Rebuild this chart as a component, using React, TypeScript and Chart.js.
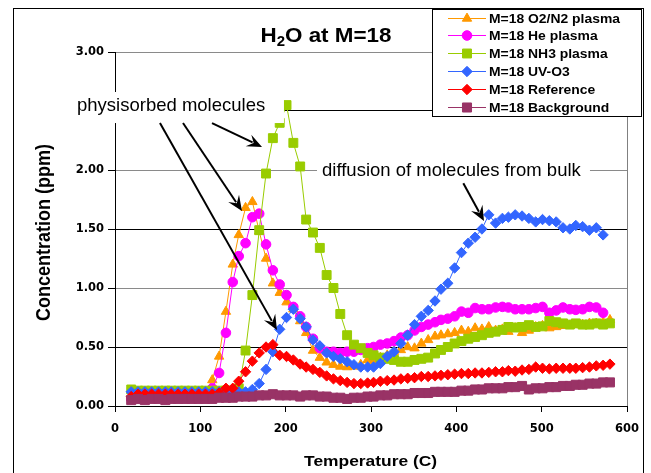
import React, { useEffect, useRef } from 'react';
import { Chart, registerables } from 'chart.js';
import { drawPoint } from 'chart.js/helpers';

Chart.register(...registerables);

// Temperature (C) of each sample
const temperatures = [
  19, 27, 35, 43, 51, 59, 66, 74, 82, 90,
  98, 106, 114, 122, 130, 138, 145, 153, 161, 169,
  177, 185, 193, 201, 209, 217, 224, 232, 240, 248,
  256, 264, 272, 280, 288, 296, 303, 311, 319, 327,
  335, 343, 351, 359, 367, 375, 382, 390, 398, 406,
  414, 422, 430, 438, 446, 454, 461, 469, 477, 485,
  493, 501, 509, 517, 525, 533, 540, 548, 556, 564,
  572, 580,
];

const o2n2Plasma = [
  0.07, 0.11, 0.11, 0.11, 0.11, 0.11, 0.11, 0.11, 0.11, 0.11,
  0.11, 0.12, 0.22, 0.42, 0.80, 1.20, 1.45, 1.68, 1.73, 1.48,
  1.25, 1.04, 0.96, 0.88, 0.82, 0.72, 0.62, 0.47, 0.41, 0.37,
  0.35, 0.335, 0.33, 0.335, 0.35, 0.39, 0.38, 0.41, 0.43, 0.46,
  0.475, 0.50, 0.49, 0.53, 0.56, 0.59, 0.60, 0.61, 0.62, 0.64,
  0.63, 0.66, 0.65, 0.67, 0.64, 0.65, 0.63, 0.66, 0.62, 0.64,
  0.67, 0.68, 0.66, 0.67, 0.68, 0.68, 0.69, 0.69, 0.70, 0.70,
  0.71, 0.73,
];

const hePlasma = [
  0.06, 0.09, 0.09, 0.09, 0.09, 0.09, 0.09, 0.09, 0.09, 0.09,
  0.09, 0.10, 0.15, 0.28, 0.62, 1.05, 1.27, 1.38, 1.60, 1.63,
  1.37, 1.15, 1.03, 0.94, 0.84, 0.76, 0.67, 0.57, 0.49, 0.46,
  0.46, 0.45, 0.46, 0.46, 0.475, 0.49, 0.50, 0.52, 0.53, 0.55,
  0.58, 0.60, 0.64, 0.67, 0.69, 0.71, 0.73, 0.74, 0.76, 0.80,
  0.79, 0.83, 0.82, 0.82, 0.835, 0.84, 0.835, 0.82, 0.82, 0.82,
  0.83, 0.84, 0.79, 0.81, 0.835, 0.82, 0.815, 0.82, 0.84, 0.835,
  0.79, null,
];

const nh3Plasma = [
  0.14, 0.13, 0.13, 0.13, 0.13, 0.13, 0.13, 0.13, 0.13, 0.13,
  0.13, 0.13, 0.13, 0.13, 0.13, 0.13, 0.15, 0.47, 0.94, 1.49,
  1.97, 2.27, 2.40, 2.55, 2.23, 2.03, 1.58, 1.47, 1.34, 1.11,
  1.00, 0.78, 0.60, 0.52, 0.49, 0.45, 0.43, 0.41, 0.40, 0.39,
  0.375, 0.375, 0.39, 0.40, 0.41, 0.445, 0.475, 0.50, 0.53, 0.55,
  0.57, 0.585, 0.60, 0.62, 0.63, 0.645, 0.67, 0.665, 0.67, 0.685,
  0.67, 0.675, 0.72, 0.71, 0.70, 0.69, 0.70, 0.69, 0.69, 0.70,
  0.69, 0.70,
];

const uvO3 = [
  0.12, 0.12, 0.12, 0.12, 0.12, 0.12, 0.12, 0.12, 0.12, 0.12,
  0.12, 0.12, 0.12, 0.12, 0.12, 0.12, 0.12, 0.12, 0.14, 0.19,
  0.31, 0.46, 0.65, 0.75, 0.82, 0.74, 0.67, 0.56, 0.51, 0.45,
  0.42, 0.40, 0.375, 0.35, 0.33, 0.33, 0.33, 0.36, 0.42, 0.46,
  0.53, 0.60, 0.69, 0.76, 0.81, 0.89, 0.99, 1.04, 1.17, 1.30,
  1.38, 1.43, 1.50, 1.62, 1.55, 1.59, 1.60, 1.62, 1.61, 1.59,
  1.56, 1.58, 1.57, 1.56, 1.51, 1.50, 1.53, 1.52, 1.49, 1.51,
  1.45, null,
];

const reference = [
  0.08, 0.10, 0.10, 0.10, 0.10, 0.10, 0.10, 0.10, 0.10, 0.10,
  0.10, 0.10, 0.10, 0.11, 0.15, 0.15, 0.21, 0.29, 0.38, 0.45,
  0.50, 0.52, 0.43, 0.42, 0.39, 0.355, 0.33, 0.31, 0.285, 0.255,
  0.23, 0.215, 0.20, 0.19, 0.19, 0.195, 0.20, 0.21, 0.215, 0.22,
  0.23, 0.235, 0.24, 0.25, 0.25, 0.255, 0.26, 0.265, 0.27, 0.275,
  0.275, 0.28, 0.28, 0.285, 0.29, 0.29, 0.30, 0.295, 0.305, 0.31,
  0.33, 0.32, 0.315, 0.32, 0.32, 0.32, 0.32, 0.325, 0.33, 0.34,
  0.345, 0.355,
];

const background = [
  0.05, 0.06, 0.05, 0.06, 0.06, 0.05, 0.06, 0.06, 0.06, 0.06,
  0.06, 0.06, 0.06, 0.07, 0.07, 0.07, 0.08, 0.08, 0.08, 0.09,
  0.09, 0.10, 0.09, 0.09, 0.09, 0.08, 0.09, 0.09, 0.08, 0.08,
  0.07, 0.07, 0.06, 0.07, 0.07, 0.08, 0.08, 0.09, 0.09, 0.10,
  0.10, 0.10, 0.11, 0.11, 0.11, 0.12, 0.12, 0.12, 0.12, 0.13,
  0.13, 0.14, 0.14, 0.15, 0.15, 0.15, 0.16, 0.16, 0.17, 0.14,
  0.15, 0.15, 0.16, 0.16, 0.17, 0.17, 0.18, 0.18, 0.19, 0.19,
  0.20, 0.20,
];

const seriesValues = [o2n2Plasma, hePlasma, nh3Plasma, uvO3, reference, background];
const seriesLabels = [
  'M=18 O2/N2 plasma',
  'M=18 He plasma',
  'M=18 NH3 plasma',
  'M=18 UV-O3',
  'M=18 Reference',
  'M=18 Background',
];
const seriesColors = ['#FF9900', '#FF00FF', '#99CC00', '#3366FF', '#FF0000', '#993366'];
const seriesMarkers = ['triangle', 'circle', 'rect', 'rectRot', 'rectRot', 'rect'];
const seriesRadius = [5.4, 4.8, 6.3, 5.2, 5.2, 6.4];

const titleMain = 'H';
const titleSub = '2';
const titleRest = 'O at M=18';
const xAxisTitle = 'Temperature (C)';
const yAxisTitle = 'Concentration (ppm)';

// annotations (data units: x = temperature, y = concentration)
const physLabel = { text: 'physisorbed molecules', x: -44.5, y: 2.5 };
const physBox = { x0: -52.7, x1: 198, y0: 2.398, y1: 2.661 };
const diffLabel = { text: 'diffusion of molecules from bulk', x: 242.6, y: 1.953 };
const diffBox = { x0: 236.7, x1: 556.6, y0: 1.898, y1: 2.11 };
const arrows = [
  { from: [113.7, 2.398], to: [172.3, 2.195] },
  { from: [79.7, 2.398], to: [148.8, 1.653] },
  { from: [52.7, 2.398], to: [189.8, 0.644] },
  { from: [408.2, 1.887], to: [432.4, 1.568] },
];

const SANS = '"Liberation Sans", Arial, sans-serif';

function stretchedText(ctx, text, x, y, font, sx, align) {
  ctx.save();
  ctx.font = font;
  ctx.textAlign = align;
  ctx.textBaseline = 'alphabetic';
  ctx.translate(x, y);
  ctx.scale(sx, 1);
  ctx.fillText(text, 0, 0);
  ctx.restore();
}

function drawArrow(ctx, x0, y0, x1, y1) {
  const dx = x1 - x0;
  const dy = y1 - y0;
  const len = Math.hypot(dx, dy);
  const ux = dx / len;
  const uy = dy / len;
  const nx = -uy;
  const ny = ux;
  const L = 15;
  const W = 6.5;
  ctx.beginPath();
  ctx.moveTo(x0, y0);
  ctx.lineTo(x1 - ux * L * 0.7, y1 - uy * L * 0.7);
  ctx.stroke();
  ctx.beginPath();
  ctx.moveTo(x1, y1);
  ctx.lineTo(x1 - ux * L + nx * W, y1 - uy * L + ny * W);
  ctx.lineTo(x1 - ux * L * 0.62, y1 - uy * L * 0.62);
  ctx.lineTo(x1 - ux * L - nx * W, y1 - uy * L - ny * W);
  ctx.closePath();
  ctx.fill();
}

const overlayPlugin = {
  id: 'overlay',
  afterDraw(chart) {
    const ctx = chart.ctx;
    const xs = chart.scales.x;
    const ys = chart.scales.y;
    const px = (v) => xs.getPixelForValue(v);
    const py = (v) => ys.getPixelForValue(v);
    ctx.save();

    // annotation boxes
    ctx.fillStyle = '#ffffff';
    for (const b of [physBox, diffBox]) {
      ctx.fillRect(px(b.x0), py(b.y1), px(b.x1) - px(b.x0), py(b.y0) - py(b.y1));
    }
    ctx.fillStyle = '#000';
    for (const l of [physLabel, diffLabel]) {
      stretchedText(ctx, l.text, px(l.x), py(l.y), `18.5px ${SANS}`, 1, 'left');
    }

    // arrows
    ctx.strokeStyle = '#000';
    ctx.fillStyle = '#000';
    ctx.lineWidth = 2;
    for (const a of arrows) {
      drawArrow(ctx, px(a.from[0]), py(a.from[1]), px(a.to[0]), py(a.to[1]));
    }

    // title with subscript
    const fBig = `bold 21px ${SANS}`;
    const fSub = `bold 14px ${SANS}`;
    ctx.font = fBig;
    const wH = ctx.measureText(titleMain).width;
    const wRest = ctx.measureText(titleRest).width;
    ctx.font = fSub;
    const w2 = ctx.measureText(titleSub).width;
    const tsx = 1.067;
    const total = (wH + w2 + wRest) * tsx;
    ctx.save();
    ctx.translate(326 - total / 2, 41.5);
    ctx.scale(tsx, 1);
    ctx.textAlign = 'left';
    ctx.textBaseline = 'alphabetic';
    ctx.fillStyle = '#000';
    ctx.font = fBig;
    ctx.fillText(titleMain, 0, 0);
    ctx.font = fSub;
    ctx.fillText(titleSub, wH, 4);
    ctx.font = fBig;
    ctx.fillText(titleRest, wH + w2, 0);
    ctx.restore();

    // axis titles
    ctx.fillStyle = '#000';
    stretchedText(ctx, xAxisTitle, 370.6, 466, `bold 15.4px ${SANS}`, 1.13, 'center');
    ctx.save();
    ctx.translate(49.5, 232.5);
    ctx.scale(1.1, 1);
    ctx.rotate(-Math.PI / 2);
    ctx.font = `bold 18px ${SANS}`;
    ctx.textAlign = 'center';
    ctx.textBaseline = 'alphabetic';
    ctx.fillText(yAxisTitle, 0, 0);
    ctx.restore();

    // legend
    ctx.fillStyle = '#ffffff';
    ctx.fillRect(432.5, 9.5, 209, 107);
    ctx.strokeStyle = '#000';
    ctx.lineWidth = 1;
    ctx.strokeRect(432.5, 9.5, 209, 107);
    for (let i = 0; i < seriesLabels.length; i++) {
      const cy = Math.round(17.5 + i * 17.85) + 0.5;
      ctx.strokeStyle = seriesColors[i];
      ctx.fillStyle = seriesColors[i];
      ctx.lineWidth = 1;
      ctx.beginPath();
      ctx.moveTo(448, cy);
      ctx.lineTo(486, cy);
      ctx.stroke();
      drawPoint(ctx, { pointStyle: seriesMarkers[i], radius: seriesRadius[i], rotation: 0, borderWidth: 1 }, 467, cy);
      ctx.fillStyle = '#000';
      stretchedText(ctx, seriesLabels[i], 489, cy + 4.7, `bold 13px ${SANS}`, 1.07, 'left');
    }

    // outer chart border
    ctx.strokeStyle = '#000';
    ctx.lineWidth = 1;
    ctx.strokeRect(13.5, 8.5, 630, 470);
    ctx.restore();
  },
};

export default function App() {
  const canvasRef = useRef(null);

  useEffect(() => {
    const canvas = canvasRef.current;
    if (!canvas) return;
    const tickFont = { family: 'DejaVu Sans', size: 11.5, weight: 'bold' };
    const chart = new Chart(canvas, {
      type: 'line',
      data: {
        datasets: seriesValues.map((vals, k) => ({
          label: seriesLabels[k],
          data: temperatures.map((t, i) => ({ x: t, y: vals[i] })),
          borderColor: seriesColors[k],
          backgroundColor: seriesColors[k],
          borderWidth: 1,
          pointStyle: seriesMarkers[k],
          pointRadius: seriesRadius[k],
          pointBorderWidth: 1,
          pointBorderColor: seriesColors[k],
          pointBackgroundColor: seriesColors[k],
          tension: 0,
          spanGaps: false,
          order: seriesValues.length - k,
        })),
      },
      options: {
        animation: false,
        responsive: false,
        devicePixelRatio: 1,
        layout: { padding: { top: 52, right: 24, left: 0, bottom: 0 } },
        plugins: {
          legend: { display: false },
          title: { display: false },
          tooltip: { enabled: false },
        },
        scales: {
          x: {
            type: 'linear',
            min: 0,
            max: 600,
            ticks: { stepSize: 100, color: '#000', font: tickFont, padding: 10, maxRotation: 0 },
            grid: {
              drawOnChartArea: true,
              color: (c) => (c.tick && c.tick.value === 600 ? '#808080' : 'rgba(0,0,0,0)'),
              tickColor: '#000',
              tickLength: 6,
              lineWidth: 1,
            },
            border: { display: true, color: '#000', width: 1 },
            afterFit: (s) => {
              s.height = 67;
            },
          },
          y: {
            type: 'linear',
            min: 0,
            max: 3,
            ticks: {
              stepSize: 0.5,
              color: '#000',
              font: tickFont,
              padding: 4,
              callback: (v) => Number(v).toFixed(2),
            },
            grid: {
              color: (c) => {
                const v = c.tick ? c.tick.value : 0;
                return Math.round(v * 2) % 2 === 1 ? '#000' : '#8a8a8a';
              },
              tickColor: '#000',
              tickLength: 7,
              lineWidth: 1,
            },
            border: { display: true, color: '#000', width: 1 },
            afterFit: (s) => {
              s.width = 115;
            },
          },
        },
      },
      plugins: [overlayPlugin],
    });
    return () => chart.destroy();
  }, []);

  return (
    <div style={{ position: 'absolute', left: 0, top: 0, width: 651, height: 473, background: '#fff' }}>
      <canvas ref={canvasRef} width={651} height={473} style={{ display: 'block', width: 651, height: 473 }} />
    </div>
  );
}
